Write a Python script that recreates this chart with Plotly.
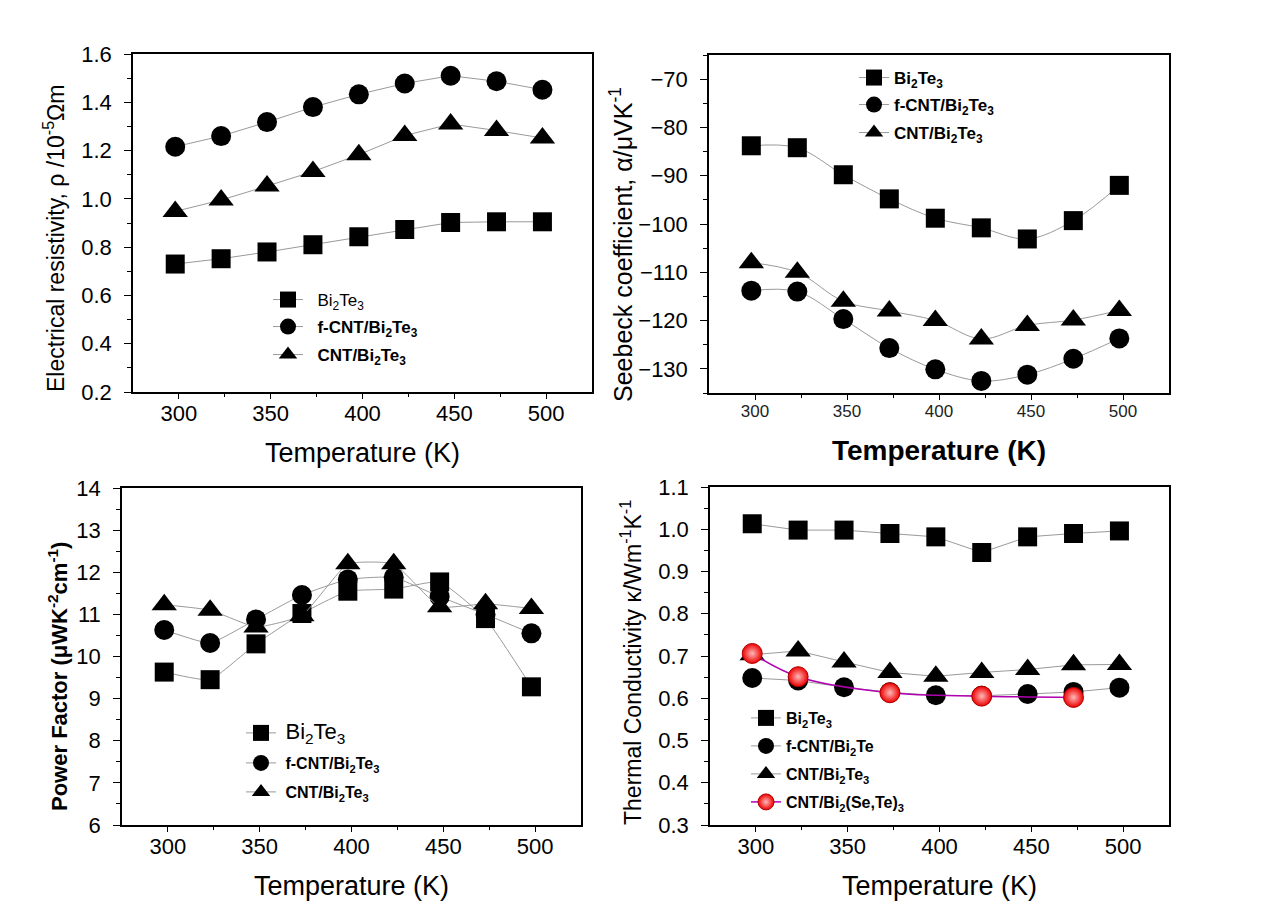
import plotly.graph_objects as go

# ---------------- data ----------------
T = [298, 323, 348, 373, 398, 423, 448, 473, 498]
T_se = [298, 323, 373, 423, 473]

rho_bi = [0.730, 0.752, 0.780, 0.810, 0.843, 0.873, 0.902, 0.905, 0.905]
rho_f = [1.216, 1.260, 1.318, 1.380, 1.433, 1.478, 1.510, 1.487, 1.452]
rho_c = [0.948, 0.995, 1.053, 1.113, 1.183, 1.262, 1.310, 1.283, 1.252]

s_bi = [-83.8, -84.2, -89.8, -94.8, -98.8, -100.8, -103.1, -99.3, -92.0]
s_f = [-113.8, -114.0, -119.7, -125.7, -130.1, -132.5, -131.2, -127.9, -123.7]
s_c = [-108.0, -110.0, -116.0, -118.0, -120.0, -123.8, -121.0, -119.9, -117.9]

pf_bi = [9.63, 9.45, 10.30, 11.02, 11.55, 11.60, 11.77, 10.90, 9.28]
pf_f = [10.63, 10.32, 10.88, 11.46, 11.83, 11.88, 11.42, 11.00, 10.55]
pf_c = [11.23, 11.10, 10.70, 10.97, 12.20, 12.20, 11.18, 11.25, 11.14]

k_bi = [1.013, 0.998, 0.998, 0.990, 0.982, 0.945, 0.982, 0.990, 0.996]
k_f = [0.648, 0.642, 0.626, 0.614, 0.607, 0.606, 0.610, 0.615, 0.625]
k_c = [0.703, 0.712, 0.686, 0.661, 0.652, 0.661, 0.668, 0.679, 0.680]
k_se = [0.706, 0.651, 0.613, 0.605, 0.602]

SP2 = "&nbsp;&nbsp;"
names_p1 = [SP2 + "Bi<sub>2</sub>Te<sub>3</sub>",
            SP2 + "<b>f-CNT/Bi<sub>2</sub>Te<sub>3</sub></b>",
            SP2 + "<b>CNT/Bi<sub>2</sub>Te<sub>3</sub></b>"]
names_p2 = ["<b>Bi<sub>2</sub>Te<sub>3</sub></b>",
            "<b>f-CNT/Bi<sub>2</sub>Te<sub>3</sub></b>",
            "<b>CNT/Bi<sub>2</sub>Te<sub>3</sub></b>"]
names_p3 = ["&nbsp;<span style=\"font-size:22px\">Bi<sub>2</sub>Te<sub>3</sub></span>",
            "&nbsp;<b>f-CNT/Bi<sub>2</sub>Te<sub>3</sub></b>",
            "&nbsp;<b>CNT/Bi<sub>2</sub>Te<sub>3</sub></b>"]
names_p4 = ["<b>Bi<sub>2</sub>Te<sub>3</sub></b>",
            "<b>f-CNT/Bi<sub>2</sub>Te</b>",
            "<b>CNT/Bi<sub>2</sub>Te<sub>3</sub></b>",
            "<b>CNT/Bi<sub>2</sub>(Se,Te)<sub>3</sub></b>"]

y_titles = ["Electrical resistivity, ρ /10<sup>-5</sup>Ωm",
            "Seebeck coefficient, α/μVK<sup>-1</sup>",
            "<b>Power Factor (μWK<sup>-2</sup>cm<sup>-1</sup>)</b>",
            "Thermal Conductivity κ/Wm<sup>-1</sup>K<sup>-1</sup>"]

FONT = "Liberation Sans, Arial, sans-serif"
LINE_GRAY = "#9a9a9a"
symbols = ["square", "circle", "triangle-up"]
sizes = [19, 20, 22]

# page offset of the plot inside the browser (default body margin)
OFF = 8
W, H = 1268 - OFF, 907 - OFF


def px(x):
    return (x - OFF) / W


def py(y):
    return 1 - (y - OFF) / H


fig = go.Figure()
legends = {}
leg_count = [0]


def new_legend(xpix, ypix, size):
    leg_count[0] += 1
    key = "legend" if leg_count[0] == 1 else "legend%d" % leg_count[0]
    legends[key] = dict(x=px(xpix), y=py(ypix), xanchor="left", yanchor="middle",
                        bgcolor="rgba(0,0,0,0)",
                        font=dict(family=FONT, size=size, color="black"))
    return key


def add_group(ys, names, xa, ya, legpos, shape="linear", smooth=1.0, fsize=17):
    lx, lys = legpos
    for y, n, sym, sz, ly in zip(ys, names, symbols, sizes, lys):
        ln = dict(color=LINE_GRAY, width=1, shape=shape)
        if shape == "spline":
            ln["smoothing"] = smooth
        fig.add_trace(go.Scatter(
            x=T, y=y, name=n, mode="lines+markers", line=ln, showlegend=True,
            marker=dict(symbol=sym, size=sz, color="black"),
            xaxis=xa, yaxis=ya, legend=new_legend(lx, ly, fsize)))


add_group([rho_bi, rho_f, rho_c], names_p1, "x", "y", (268, [300, 327, 355]))
add_group([s_bi, s_f, s_c], names_p2, "x2", "y2", (854, [78, 105, 133]), "spline", 1.0)
add_group([pf_bi, pf_f, pf_c], names_p3, "x3", "y3", (241, [733, 763, 792]),
          "spline", 0.4, 16)
add_group([k_bi, k_f, k_c], names_p4, "x4", "y4", (746, [718, 746, 774]),
          fsize=16)
fig.add_trace(go.Scatter(
    x=T_se, y=k_se, name=names_p4[3], mode="lines+markers", showlegend=True,
    line=dict(color="#b000b0", width=1.5, shape="spline"),
    marker=dict(symbol="circle", size=20, color="#ee0000",
                line=dict(color="#b00000", width=1),
                gradient=dict(type="radial", color="#ffb8b8")),
    xaxis="x4", yaxis="y4", legend=new_legend(746, 802, 16)))


def xax(x0, x1, anchor, tickfont, titlefont, bold=False, lstand=-4, tstand=18):
    t = "Temperature (K)"
    if bold:
        t = "<b>" + t + "</b>"
    return dict(domain=[px(x0), px(x1)], anchor=anchor, range=[275, 525],
                automargin=False, tickvals=[300, 350, 400, 450, 500],
                showline=True, mirror=True, linecolor="black", linewidth=1.5,
                ticks="outside", ticklen=5, tickwidth=1, tickcolor="black",
                minor=dict(tickvals=[325, 375, 425, 475], ticks="outside",
                           ticklen=3, tickcolor="black"),
                showgrid=False, zeroline=False,
                tickfont=tickfont, ticklabelstandoff=lstand,
                title=dict(text=t, font=titlefont, standoff=tstand))


def yax(y0, y1, anchor, rng, dtick, mdtick, tickfont, fmt=None):
    a = dict(domain=[py(y1), py(y0)], anchor=anchor, range=rng, dtick=dtick,
             tick0=rng[0], automargin=False,
             showline=True, mirror=True, linecolor="black", linewidth=1.5,
             ticks="outside", ticklen=7, tickwidth=1, tickcolor="black",
             minor=dict(dtick=mdtick, ticks="outside", ticklen=4, tickcolor="black"),
             showgrid=False, zeroline=False,
             tickfont=tickfont, ticklabelstandoff=8)
    if fmt:
        a["tickformat"] = fmt
    return a


big = dict(family=FONT, size=22, color="black")
xt_title = dict(family=FONT, size=27, color="black")

# y-axis titles (placed as in the reference, slightly below the axis centre)
ytitle_pos = [(54, 239, 23), (621, 245, 25), (58, 677, 22), (631, 663, 23)]
annotations = []
for txt, (xp, yp, fs) in zip(y_titles, ytitle_pos):
    annotations.append(dict(text=txt, x=px(xp), y=py(yp), xref="paper", yref="paper",
                            xanchor="center", yanchor="middle", textangle=-90,
                            showarrow=False,
                            font=dict(family=FONT, size=fs, color="black")))

fig.update_layout(
    width=W, height=H, margin=dict(l=0, r=0, t=0, b=0, autoexpand=False),
    paper_bgcolor="white", plot_bgcolor="white",
    font=dict(family=FONT, color="black"), showlegend=True,
    xaxis=xax(133, 592, "y", big, xt_title),
    yaxis=yax(54, 392, "x", [0.2, 1.6], 0.2, 0.1, big, ".1f"),
    xaxis2=xax(709, 1169, "y2",
               dict(family="Liberation Sans Narrow, " + FONT, size=17, color="#222"),
               dict(family=FONT, size=28, color="black"), bold=True,
               lstand=-3, tstand=20),
    yaxis2=yax(55, 393, "x2", [-135, -65], 10, 5, big),
    xaxis3=xax(122, 581, "y3", big, xt_title),
    yaxis3=yax(488, 825, "x3", [6, 14], 1, 0.5, big),
    xaxis4=xax(710, 1169, "y4", big, xt_title),
    yaxis4=yax(487, 825, "x4", [0.3, 1.1], 0.1, 0.05, big, ".1f"),
    annotations=annotations,
    **legends,
)
fig.update_yaxes(selector=dict(anchor="x2"), tick0=-130)

fig.write_html("out.html")
